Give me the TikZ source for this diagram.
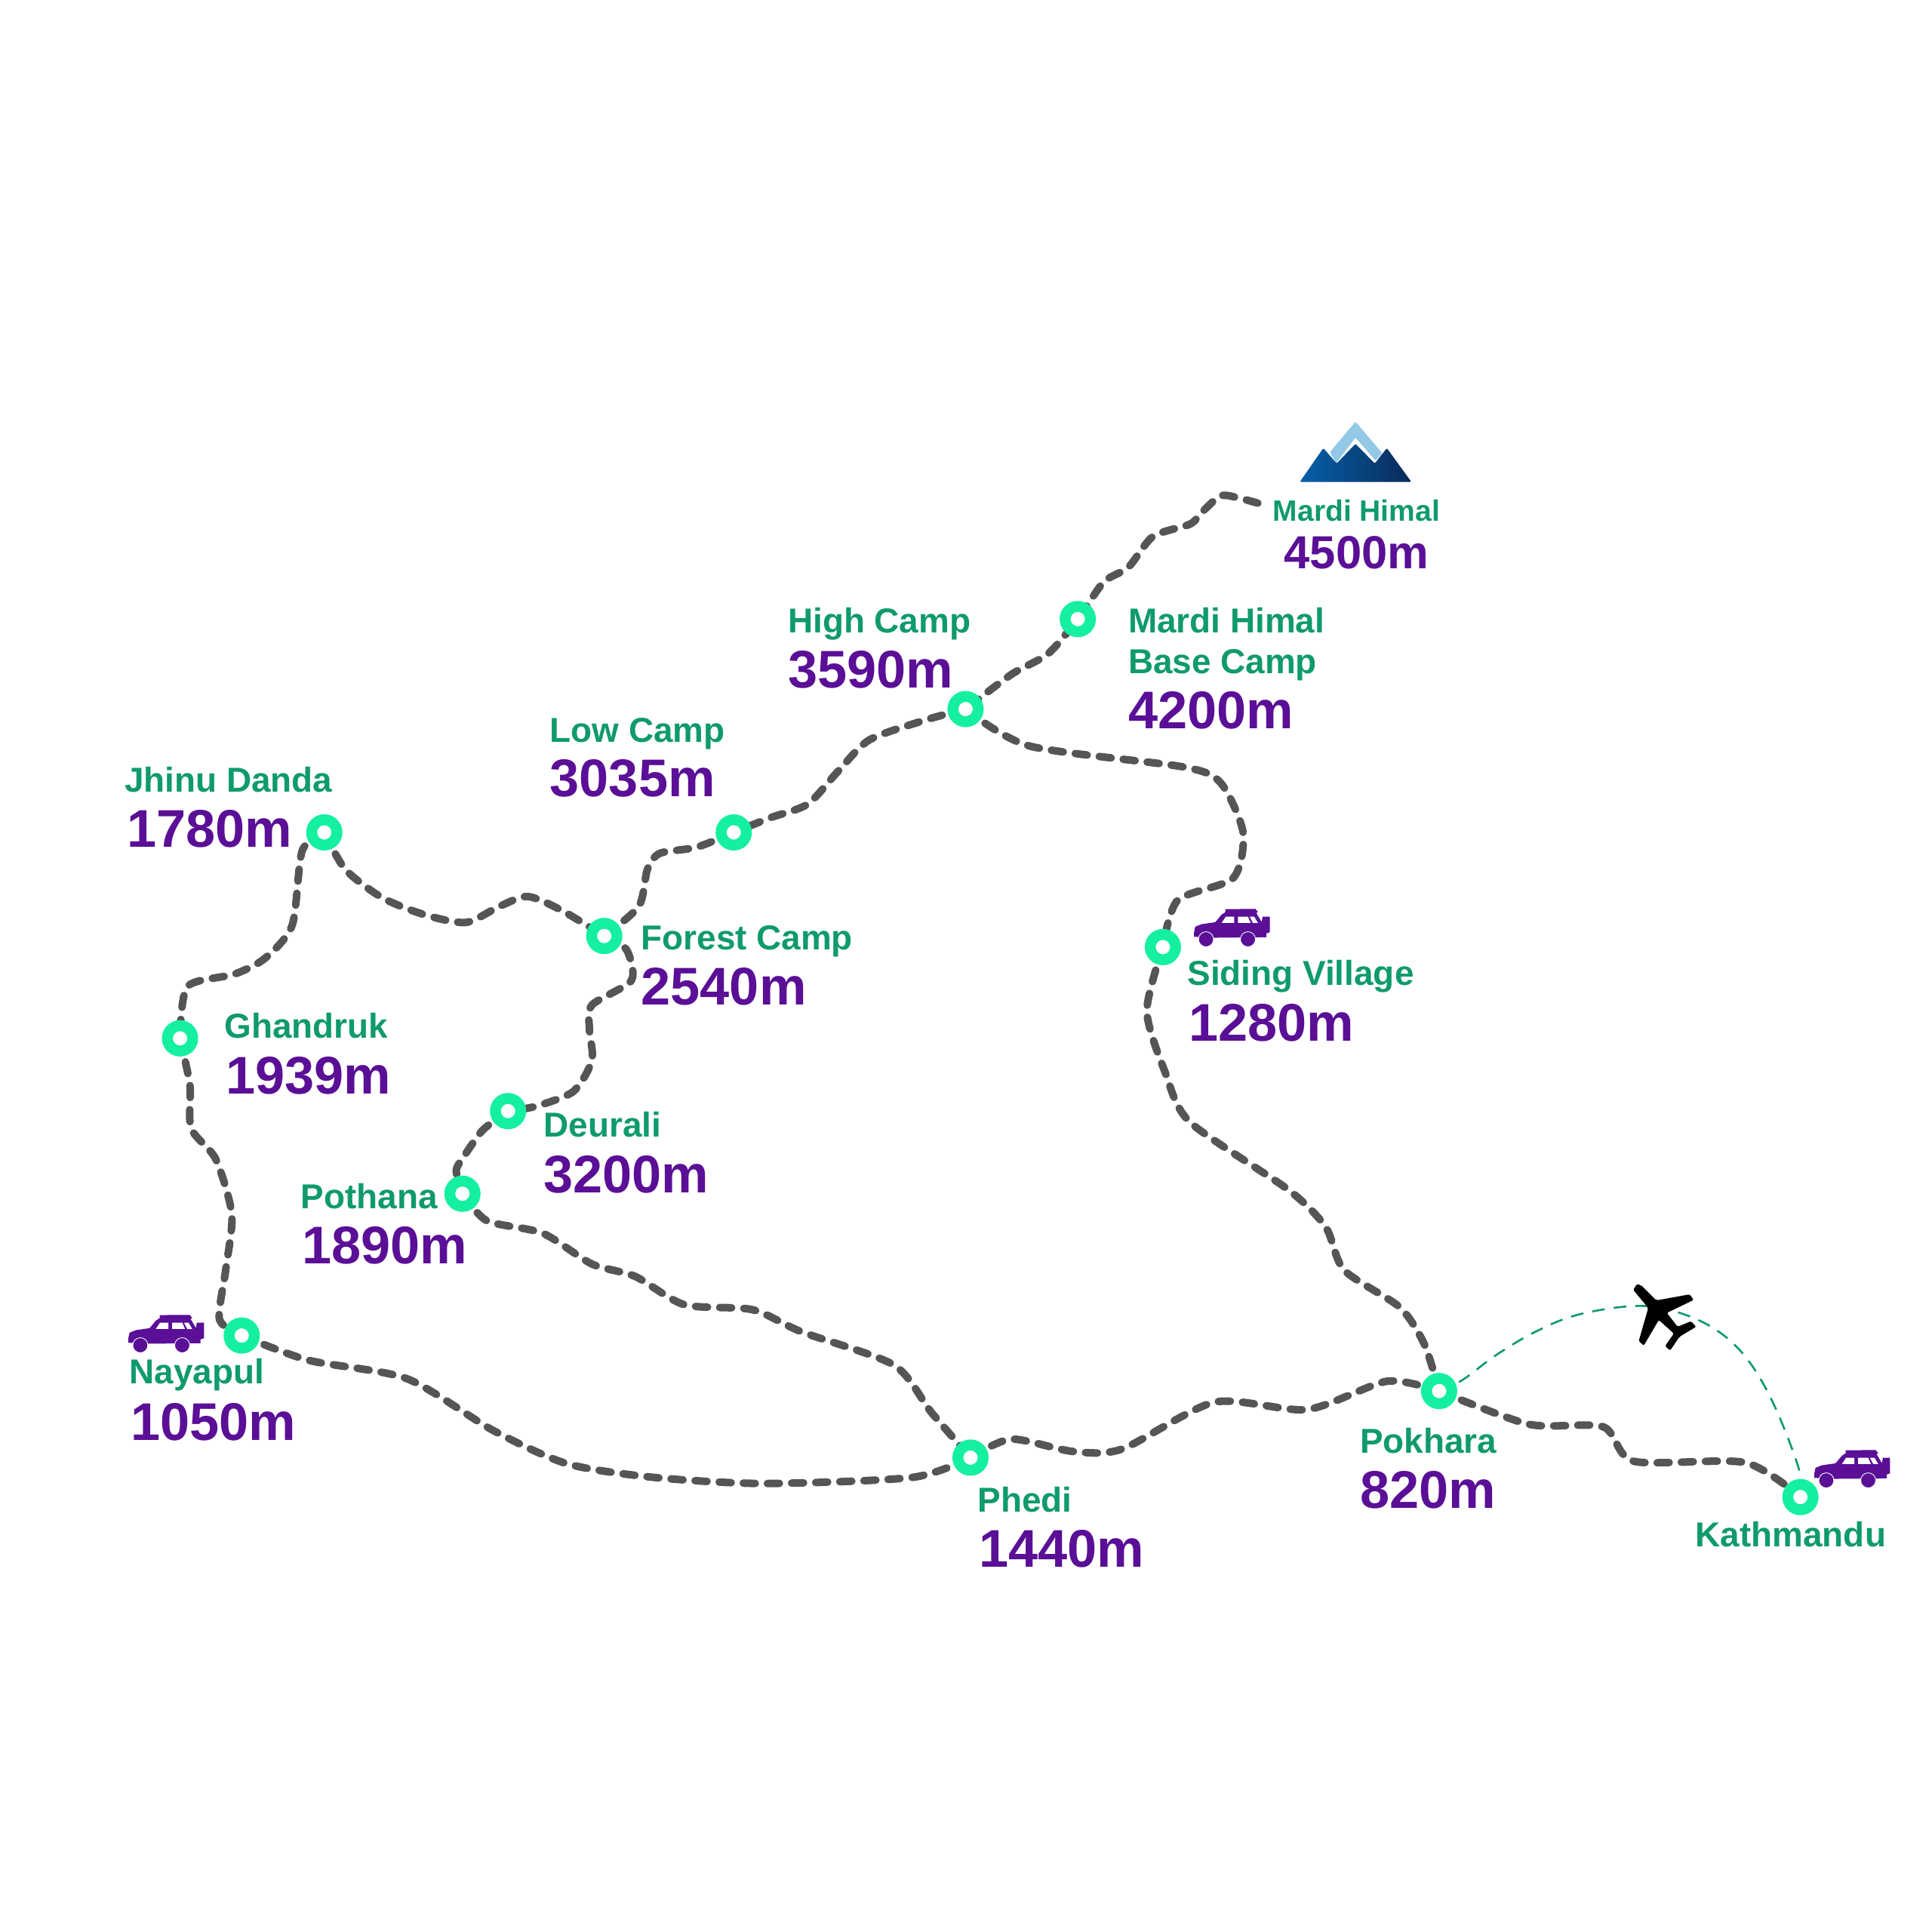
\documentclass[tikz,border=0pt]{standalone}
\usepackage{fontspec}
\setmainfont{Liberation Sans}
\usetikzlibrary{backgrounds}
\definecolor{ringgreen}{HTML}{14F0A0}
\definecolor{namegreen}{HTML}{0F9A6D}
\definecolor{altpurple}{HTML}{5A0F96}
\definecolor{trailgray}{HTML}{555555}
\definecolor{snowblue}{HTML}{93C8E6}
\definecolor{peakleft}{HTML}{0560A8}
\definecolor{peakright}{HTML}{0A2A5A}
\tikzstyle{stopring} = [circle,draw=ringgreen,fill=white,line width=0.145cm,outer sep=0,inner sep=0,minimum size=0.335cm]
\tikzstyle{placename} = [anchor=base west,inner sep=0,outer sep=0,yshift=0.015cm,text=namegreen,font=\fontsize{13.05}{14}\selectfont\bfseries]
\tikzstyle{altitude} = [anchor=base west,inner sep=0,outer sep=0,text=altpurple,font=\fontsize{20}{22}\selectfont\bfseries]
\tikzstyle{trail} = [draw=trailgray,line width=2.85pt,line cap=round,dash pattern=on 4.5pt off 4.6pt]
\tikzstyle{flight} = [draw=namegreen,line width=0.75pt,dash pattern=on 4.8pt off 3.4pt]
\tikzset{
  car/.pic={
    \begin{scope}[x=0.00333cm,y=-0.00333cm]
      \fill [altpurple] (30,132) -- (35,108) -- (60,98) -- (115,90) -- (140,60) -- (155,50) -- (155,38) -- (275,37) -- (285,50) -- (278,53) -- (300,90) -- (303,68) -- (332,68) -- (332,130) -- (318,135) -- (318,150) -- (100,152) -- (30,148) -- cycle;
      \fill [altpurple,draw=white,line width=0.25pt] (78,158) circle (30) (245,158) circle (30);
      \fill [white] (140,93) -- (157,68) -- (190,68) -- (190,93) -- cycle;
      \fill [white] (205,93) -- (205,68) -- (245,68) -- (256,93) -- cycle;
      \fill [white] (252,68) -- (270,68) -- (285,93) -- (265,93) -- cycle;
    \end{scope}
  }
}

\begin{document}
\begin{tikzpicture}[x=0.01634cm,y=-0.01634cm]
    \useasboundingbox (0,0) rectangle (1566.7,1566.7);

    \node [stopring] (jhinu) at (263,675) {};
    \node [stopring] (forest) at (490,759) {};
    \node [stopring] (lowcamp) at (595,675) {};
    \node [stopring] (highcamp) at (783,575) {};
    \node [stopring] (basecamp) at (874,502) {};
    \node [stopring] (ghandruk) at (146,842) {};
    \node [stopring] (deurali) at (412,901) {};
    \node [stopring] (pothana) at (375,968) {};
    \node [stopring] (nayapul) at (196,1083) {};
    \node [stopring] (phedi) at (787,1182) {};
    \node [stopring] (pokhara) at (1167,1128) {};
    \node [stopring] (kathmandu) at (1460,1214) {};
    \node [stopring] (siding) at (943,768) {};
    \coordinate (summit) at (1020,408);

    \begin{pgfonlayer}{background}
      \draw [trail] plot [smooth,tension=0.45] coordinates {(summit) (1005,404) (990,402) (975,415) (965,425) (935,435) (915,460) (895,472) (basecamp) (850,530) (820,547) (highcamp)};
      \draw [trail] plot [smooth,tension=0.45] coordinates {(highcamp) (750,584) (705,600) (680,625) (655,652) (625,663) (lowcamp)};
      \draw [trail] plot [smooth,tension=0.45] coordinates {(lowcamp) (565,687) (535,692) (525,705) (518,735) (forest)};
      \draw [trail] plot [smooth,tension=0.45] coordinates {(jhinu) (280,705) (310,728) (345,742) (378,748) (405,735) (428,727) (455,738) (forest)};
      \draw [trail] plot [smooth,tension=0.45] coordinates {(forest) (508,770) (512,795) (480,815) (478,835) (480,860) (465,885) (435,897) (deurali)};
      \draw [trail] plot [smooth,tension=0.45] coordinates {(deurali) (398,911) (390,918) (378,935) (370,949) (pothana)};
      \draw [trail] plot [smooth,tension=0.45] coordinates {(pothana) (395,990) (440,1000) (480,1025) (515,1035) (555,1058) (610,1062) (650,1080) (725,1107) (755,1145) (phedi)};
      \draw [trail] plot [smooth,tension=0.45] coordinates {(nayapul) (250,1103) (330,1118) (400,1160) (460,1187) (530,1198) (620,1203) (740,1198) (phedi)};
      \draw [trail] plot [smooth,tension=0.45] coordinates {(jhinu) (245,690) (237,750) (215,777) (190,790) (152,800) (ghandruk)};
      \draw [trail] plot [smooth,tension=0.45] coordinates {(ghandruk) (154,880) (155,915) (175,940) (188,985) (183,1030) (178,1070) (nayapul)};
      \draw [trail] plot [smooth,tension=0.45] coordinates {(phedi) (820,1167) (870,1177) (910,1175) (985,1137) (1060,1143) (1125,1120) (pokhara)};
      \draw [trail] plot [smooth,tension=0.45] coordinates {(pokhara) (1240,1155) (1300,1157) (1325,1185) (1415,1186) (kathmandu)};
      \draw [trail] plot [smooth,tension=0.45] coordinates {(highcamp) (835,605) (960,622) (990,635) (1008,675) (1000,712) (955,730) (siding)};
      \draw [trail] plot [smooth,tension=0.45] coordinates {(siding) (930,820) (945,870) (965,910) (1045,965) (1075,995) (1090,1030) (1135,1060) (1155,1090) (pokhara)};
      \draw [flight] plot [smooth,tension=0.6] coordinates {(pokhara) (1186,1119) (1213,1099) (1245,1080) (1280,1066) (1327,1059) (1360,1064) (1391,1078) (1416,1101) (1438,1138) (1459,1192) (kathmandu)};
    \end{pgfonlayer}

    \node [placename,font=\fontsize{11.1}{14}\selectfont\bfseries,anchor=base] (summitname) at (1100,423.5) {Mardi Himal};
    \node [altitude,font=\fontsize{17.5}{20}\selectfont\bfseries,anchor=base] (summitalt) at (1100,461) {4500m};
    \node [placename] (highcampname) at (639,514) {High Camp};
    \node [altitude] (highcampalt) at (639,558) {3590m};
    \node [placename] (basecampname) at (915,514) {Mardi Himal};
    \node [placename] (basecampname2) at (915,547) {Base Camp};
    \node [altitude] (basecampalt) at (915,591) {4200m};
    \node [placename] (lowcampname) at (446,603) {Low Camp};
    \node [altitude] (lowcampalt) at (446,646) {3035m};
    \node [placename] (jhinuname) at (101,643) {Jhinu Danda};
    \node [altitude] (jhinualt) at (103,687) {1780m};
    \node [placename] (forestname) at (520,771) {Forest Camp};
    \node [altitude] (forestalt) at (520,815) {2540m};
    \node [placename] (sidingname) at (963,800) {Siding Village};
    \node [altitude] (sidingalt) at (964,844) {1280m};
    \node [placename] (ghandrukname) at (182,843) {Ghandruk};
    \node [altitude] (ghandrukalt) at (183,887) {1939m};
    \node [placename] (deuraliname) at (441,923) {Deurali};
    \node [altitude] (deuralialt) at (441,967) {3200m};
    \node [placename] (pothananame) at (244,981) {Pothana};
    \node [altitude] (pothanaalt) at (245,1025) {1890m};
    \node [placename] (nayapulname) at (105,1123) {Nayapul};
    \node [altitude] (nayapulalt) at (106,1168) {1050m};
    \node [placename] (phediname) at (793,1227) {Phedi};
    \node [altitude] (phedialt) at (794,1271) {1440m};
    \node [placename] (pokharaname) at (1103,1179) {Pokhara};
    \node [altitude] (pokharaalt) at (1103,1223) {820m};
    \node [placename] (kathmanduname) at (1375,1255) {Kathmandu};

    \path (97.9,1058.7) pic {car};
    \path (962.1,729.5) pic {car};
    \path (1465.1,1168.3) pic {car};

    \begin{scope}[shift={(16cm,-5.2cm)},x=0.00333cm,y=-0.00333cm]
      \fill [snowblue,rounded corners=0.6pt] (488,238) -- (590,117) -- (697,242) -- (670,272) -- (590,180) -- (513,282) -- cycle;
      \shade [left color=peakleft,right color=peakright,rounded corners=0.4pt] (368,357) -- (462,222) -- (515,283) -- (590,205) -- (667,283) -- (715,222) -- (813,357) -- cycle;
    \end{scope}
    \begin{scope}[shift={(21.4cm,-16.8cm)},x=0.00333cm,y=-0.00333cm]
      \fill [black,rounded corners=0.6pt] (73,88) -- (88,65) -- (105,70) -- (165,130) -- (298,106) -- (314,128) -- (207,180) -- (250,235) -- (303,213) -- (324,235) -- (257,275) -- (220,330) -- (200,312) -- (235,262) -- (175,208) -- (115,310) -- (95,292) -- (133,160) -- cycle;
    \end{scope}
  \end{tikzpicture}
\end{document}
